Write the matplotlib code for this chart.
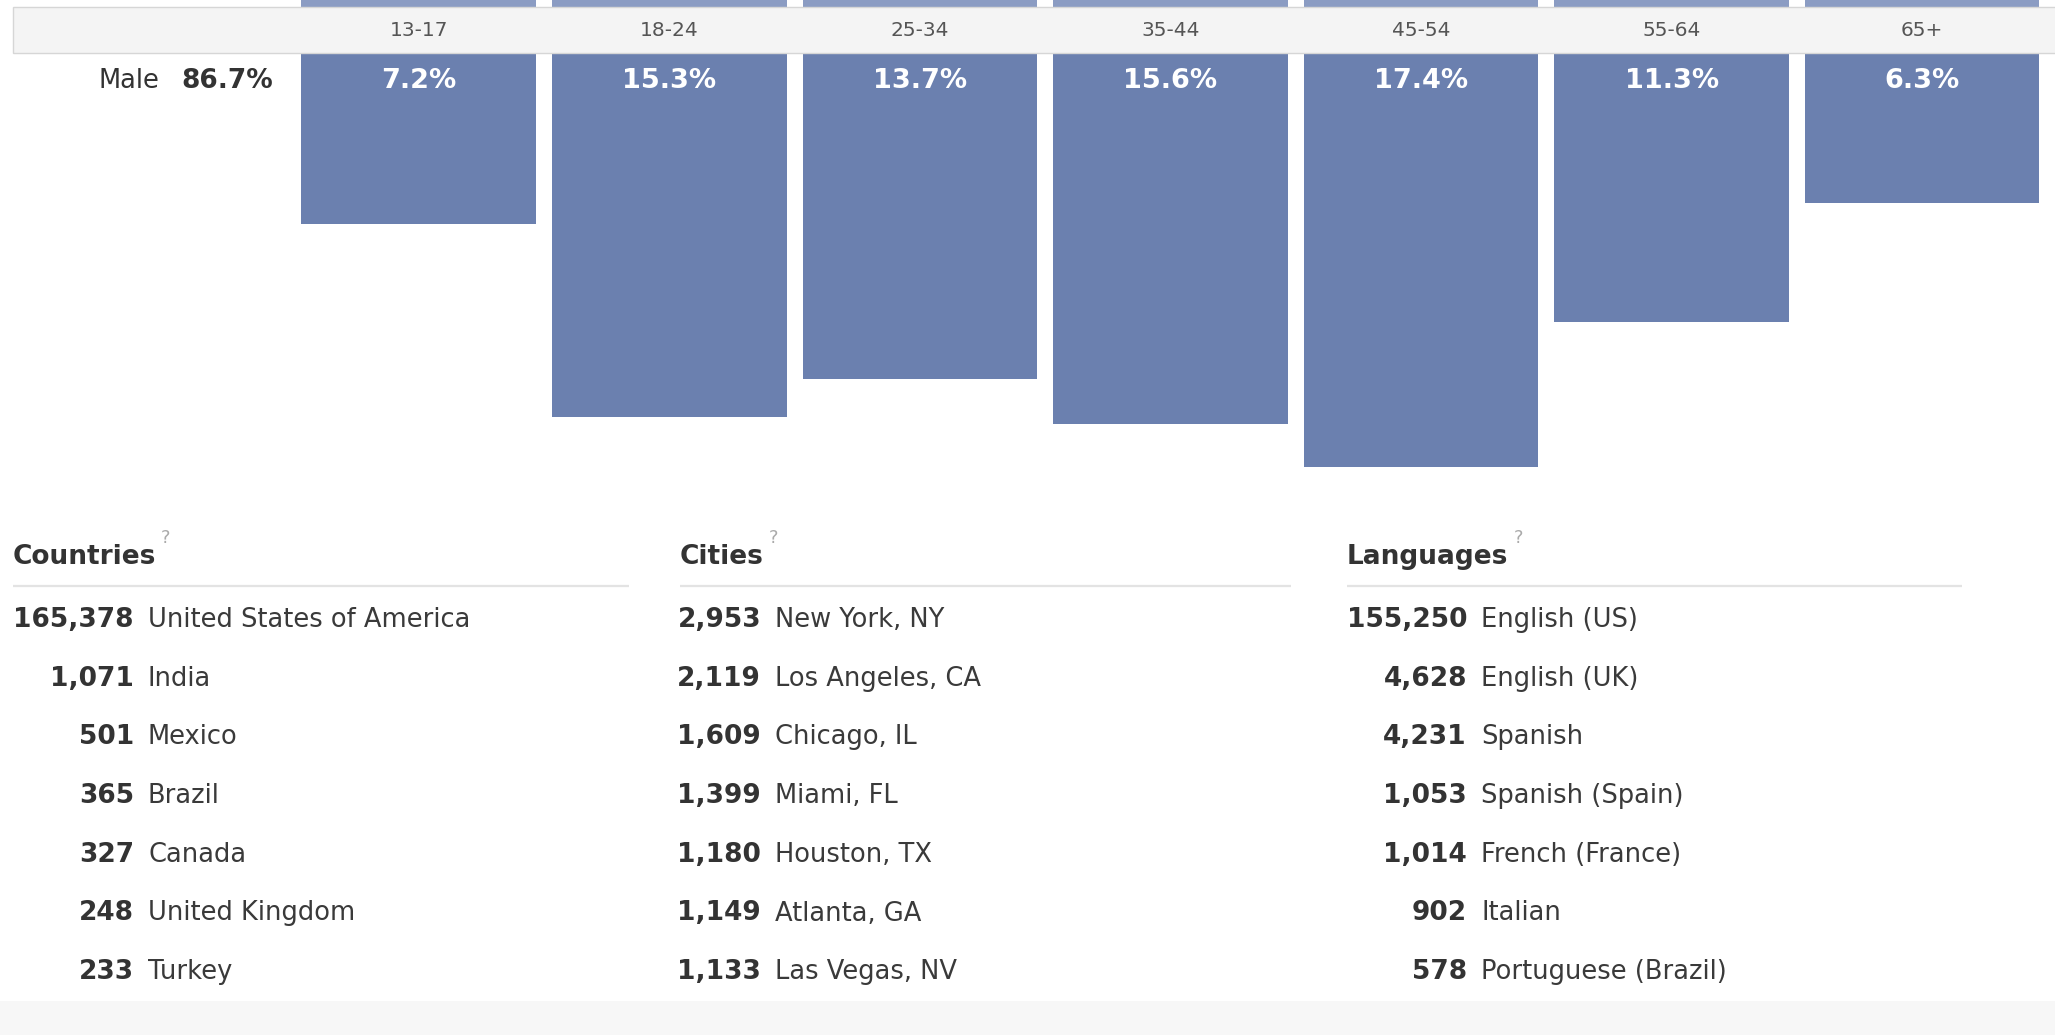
import matplotlib
matplotlib.use("Agg")
import matplotlib.pyplot as plt
import matplotlib.patches as mpatches
import matplotlib.transforms as mtransforms

# ---- data ----
age_groups = ["13-17", "18-24", "25-34", "35-44", "45-54", "55-64", "65+"]
male_pct = [7.2, 15.3, 13.7, 15.6, 17.4, 11.3, 6.3]
male_total = 86.7

countries = ["United States of America", "India", "Mexico", "Brazil",
             "Canada", "United Kingdom", "Turkey"]
country_counts = [165378, 1071, 501, 365, 327, 248, 233]

cities = ["New York, NY", "Los Angeles, CA", "Chicago, IL", "Miami, FL",
          "Houston, TX", "Atlanta, GA", "Las Vegas, NV"]
city_counts = [2953, 2119, 1609, 1399, 1180, 1149, 1133]

languages = ["English (US)", "English (UK)", "Spanish", "Spanish (Spain)",
             "French (France)", "Italian", "Portuguese (Brazil)"]
language_counts = [155250, 4628, 4231, 1053, 1014, 902, 578]

# ---- style ----
bar_color = "#6b80af"
tail_color = "#8b9cc3"
strip_bg = "#f4f4f4"
strip_edge = "#d6d6d6"
text_dark = "#333333"
label_grey = "#555555"
rule_color = "#e3e3e3"
plt.rcParams["font.family"] = ["DejaVu Sans"]

W, H = 2055, 1035
fig = plt.figure(figsize=(W / 100, H / 100), dpi=100)
fig.patch.set_facecolor("white")

# bar panel: top of axes = top of figure, bottom at y=500px
px_per_pct = 23.77
strip_bottom = 53
panel_bottom = 500
ax_bars = fig.add_axes([0, 1 - panel_bottom / H, 1, panel_bottom / H])
ax_bars.set_xlim(-1.671, 6.530)
y_top = -strip_bottom / px_per_pct
ax_bars.set_ylim((panel_bottom - strip_bottom) / px_per_pct, y_top)
ax_bars.axis("off")

x = list(range(len(age_groups)))
bar_w = 0.936
# tails of the upper series, cut off by the top edge
ax_bars.bar(x, [y_top] * len(x), width=bar_w, color=tail_color, linewidth=0)
ax_bars.bar(x, male_pct, width=bar_w, color=bar_color, linewidth=0)
for xi, v in zip(x, male_pct):
    ax_bars.text(xi, (81 - strip_bottom) / px_per_pct, f"{v}%", ha="center",
                 va="center", color="white", fontsize=19.5, fontweight="bold")

# overlay in pixel coordinates
ax = fig.add_axes([0, 0, 1, 1], zorder=2)
ax.set_xlim(0, W)
ax.set_ylim(H, 0)
ax.patch.set_alpha(0)
ax.axis("off")

ax.add_patch(mpatches.Rectangle((13, 7), W - 13 + 5, strip_bottom - 7,
                                facecolor=strip_bg, edgecolor=strip_edge,
                                linewidth=1.0))
blend = mtransforms.blended_transform_factory(ax_bars.transData, ax.transData)
for xi, lab in zip(x, age_groups):
    ax.text(xi, 30, lab, transform=blend, ha="center", va="center",
            color=label_grey, fontsize=14.5)

ax.text(159, 81, "Male", ha="right", va="center", color=text_dark, fontsize=18.5)
ax.text(181, 81, f"{male_total}%", ha="left", va="center", color=text_dark,
        fontsize=19, fontweight="bold")

# bottom band
ax.add_patch(mpatches.Rectangle((0, 1001), W, H - 1001, facecolor="#f7f7f7",
                                linewidth=0))

# lists
sections = [
    ("Countries", 13, 629, 134, 161, countries, country_counts),
    ("Cities", 680, 1291, 761, 769, cities, city_counts),
    ("Languages", 1347, 1962, 1467, 1514, languages, language_counts),
]
row0, row_step = 620, 58.7
for title, x0, x1, num_right, q_x, names, counts in sections:
    ax.text(x0, 557, title, ha="left", va="center", color=text_dark,
            fontsize=19, fontweight="bold")
    ax.text(q_x, 538, "?", ha="left", va="center", color="#aaaaaa", fontsize=13)
    ax.plot([x0, x1], [586, 586], color=rule_color, linewidth=1.6,
            solid_capstyle="butt")
    for i, (name, n) in enumerate(zip(names, counts)):
        y = row0 + i * row_step
        ax.text(num_right, y, f"{n:,}", ha="right", va="center",
                color=text_dark, fontsize=19, fontweight="bold")
        ax.text(num_right + 14, y, name, ha="left", va="center",
                color="#3a3a3a", fontsize=18.5)

fig.savefig("out.png", dpi=100, facecolor="white")
